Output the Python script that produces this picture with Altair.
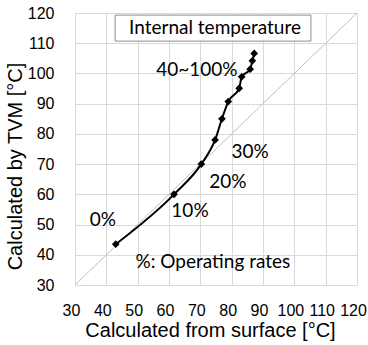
import altair as alt
import pandas as pd

# Operating-rate series (surface-based vs TVM-based temperature)
surface_temp = [43.0, 61.6, 70.3, 74.7, 76.9, 78.9, 82.4, 83.2, 85.9, 86.6, 87.2]
tvm_temp = [43.5, 60.0, 70.0, 78.0, 85.0, 90.7, 95.1, 98.9, 101.4, 104.2, 106.6]

# Reference diagonal y = x
diag_vals = [30, 120]

# Annotation labels (data coords)
label_text = ["0%", "10%", "20%", "30%", "40~100%", "%: Operating rates"]
label_x = [38.9, 66.7, 78.8, 85.9, 68.9, 74.0]
label_y = [51.5, 54.5, 64.1, 74.0, 101.1, 37.6]

# Title box
box_text = ["Internal temperature"]
box_cx = [74.7]
box_cy = [115.0]
box_x1 = [42.8]
box_x2 = [105.3]
box_y1 = [110.7]
box_y2 = [119.3]

ticks = [30, 40, 50, 60, 70, 80, 90, 100, 110, 120]

series = pd.DataFrame({"x": surface_temp, "y": tvm_temp})
diag = pd.DataFrame({"x": diag_vals, "y": diag_vals})
labels = pd.DataFrame({"t": label_text, "x": label_x, "y": label_y})
box = pd.DataFrame({"t": box_text, "cx": box_cx, "cy": box_cy,
                    "x1": box_x1, "x2": box_x2, "y1": box_y1, "y2": box_y2})

xscale = alt.Scale(domain=[30, 120], nice=False, zero=False)
yscale = alt.Scale(domain=[30, 120], nice=False, zero=False)

xaxis = alt.Axis(values=ticks, tickCount=20, grid=True, gridColor="#d9d9d9", ticks=False, domain=False,
                 labelFont="Liberation Sans", labelFontSize=16, labelColor="#000",
                 labelPadding=17, labelOffset=-4, labelFlush=False, labelOverlap=False, labelBound=False,
                 title="Calculated from surface [°C]", titleFont="Liberation Sans",
                 titleFontSize=20, titleFontWeight="normal", titleColor="#000",
                 titleX=135, titleY=45, titleBaseline="middle", titleAlign="center")
yaxis = alt.Axis(values=ticks, tickCount=20, grid=True, gridColor="#d9d9d9", ticks=False, domain=False,
                 labelFont="Liberation Sans", labelFontSize=16, labelColor="#000",
                 labelPadding=21, labelFlush=False, labelOverlap=False, labelBound=False,
                 title="Calculated by TVM [°C]", titleFont="Liberation Sans",
                 titleFontSize=20, titleFontWeight="normal", titleColor="#000",
                 titleX=-60, titleY=153, titleAngle=270, titleBaseline="middle",
                 titleAlign="center")

base_x = alt.X("x:Q", scale=xscale, axis=xaxis)
base_y = alt.Y("y:Q", scale=yscale, axis=yaxis)

diag_line = alt.Chart(diag).mark_line(color="#bfbfbf", strokeWidth=1).encode(x=base_x, y=base_y)

line = alt.Chart(series).mark_line(color="#000", strokeWidth=2, interpolate="monotone").encode(
    x=alt.X("x:Q", scale=xscale), y=alt.Y("y:Q", scale=yscale))
points = alt.Chart(series).mark_point(shape="diamond", filled=True, color="#000", size=60, opacity=1).encode(
    x=alt.X("x:Q", scale=xscale), y=alt.Y("y:Q", scale=yscale))

text = alt.Chart(labels).mark_text(font="Lato", fontSize=19, color="#000",
                                   align="center", baseline="middle").encode(
    x=alt.X("x:Q", scale=xscale), y=alt.Y("y:Q", scale=yscale), text="t:N")

box_rect = alt.Chart(box).mark_rect(fill="white", stroke="#8c8c8c", strokeWidth=1).encode(
    x=alt.X("x1:Q", scale=xscale), x2="x2:Q",
    y=alt.Y("y1:Q", scale=yscale), y2="y2:Q")
box_txt = alt.Chart(box).mark_text(font="Lato", fontSize=19, color="#000",
                                   align="center", baseline="middle").encode(
    x=alt.X("cx:Q", scale=xscale), y=alt.Y("cy:Q", scale=yscale), text="t:N")

chart = alt.layer(diag_line, line, points, text, box_rect, box_txt).properties(
    width=282, height=272,
    autosize=alt.AutoSizeParams(type="none"),
    padding={"left": 75, "top": 13, "right": 11, "bottom": 60},
    background="white",
).configure_view(stroke="#d9d9d9", strokeWidth=1)

chart.save("out.html", embed_options={"renderer": "svg", "actions": False})
